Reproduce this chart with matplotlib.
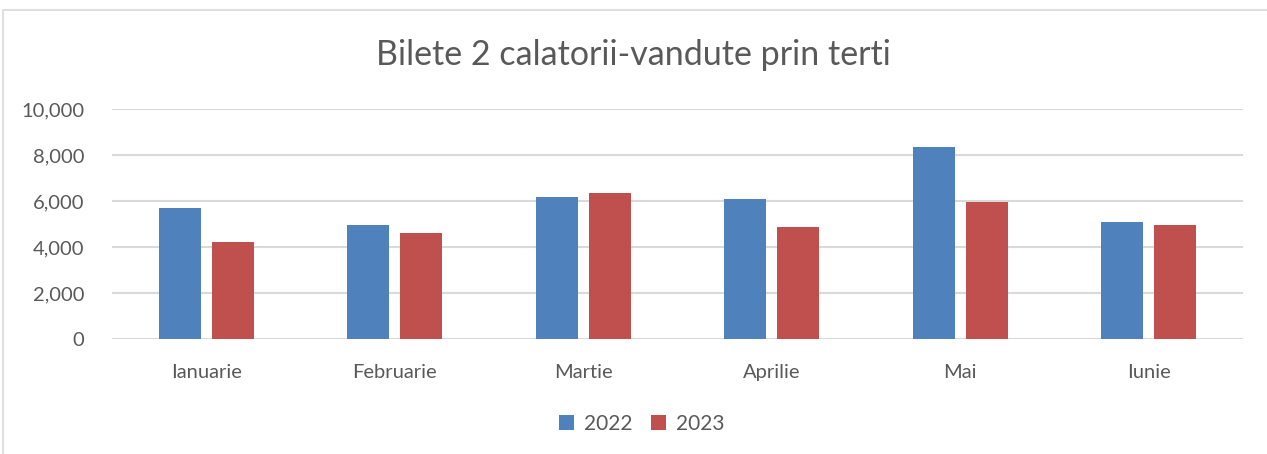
import numpy as np
import matplotlib.pyplot as plt
from matplotlib.patches import Rectangle
from matplotlib.ticker import FuncFormatter

months = ["Ianuarie", "Februarie", "Martie", "Aprilie", "Mai", "Iunie"]
series_names = ["2022", "2023"]
values_2022 = [5690, 4935, 6155, 6080, 8330, 5080]
values_2023 = [4225, 4630, 6330, 4850, 5935, 4935]
colors = ["#4F81BD", "#C0504D"]

plt.rcParams["font.family"] = ["Lato", "DejaVu Sans"]
text_color = "#595959"

fig = plt.figure(figsize=(12.67, 4.54), dpi=100)
fig.patches.append(Rectangle((3 / 1267, -0.1), 1.2, 1 - 10 / 454 + 0.1,
                             transform=fig.transFigure, fill=False,
                             edgecolor="#D9D9D9", linewidth=1.2))

ax = fig.add_axes([112 / 1267, 1 - 339 / 454, (1243 - 112) / 1267, (339 - 109) / 454])

x = np.arange(len(months))
width = 0.223
offset = 0.14
ax.bar(x - offset, values_2022, width, color=colors[0], label=series_names[0], zorder=3)
ax.bar(x + offset, values_2023, width, color=colors[1], label=series_names[1], zorder=3)

ax.set_xlim(-0.5, len(months) - 0.5)
ax.set_ylim(0, 10000)
ax.set_yticks(range(0, 10001, 2000))
ax.yaxis.set_major_formatter(FuncFormatter(lambda v, p: f"{int(v):,}"))
ax.set_xticks(x)
ax.set_xticklabels(months)
ax.grid(axis="y", color="#D9D9D9", linewidth=1.5, zorder=0)
for s in ax.spines.values():
    s.set_visible(False)
ax.tick_params(axis="both", length=0, labelsize=14.5, colors=text_color)
ax.tick_params(axis="x", pad=18)
ax.tick_params(axis="y", pad=20)

fig.text(0.5, 1 - 55 / 454, "Bilete 2 calatorii-vandute prin terti",
         ha="center", va="center", fontsize=24.5, color=text_color)

fig.legend(loc="center", bbox_to_anchor=(642 / 1267, 1 - 424 / 454), ncol=2,
           frameon=False, fontsize=15, labelcolor=text_color,
           handlelength=0.7, handleheight=0.7, handletextpad=0.5, columnspacing=0.9)

fig.savefig("out.png", dpi=100)
